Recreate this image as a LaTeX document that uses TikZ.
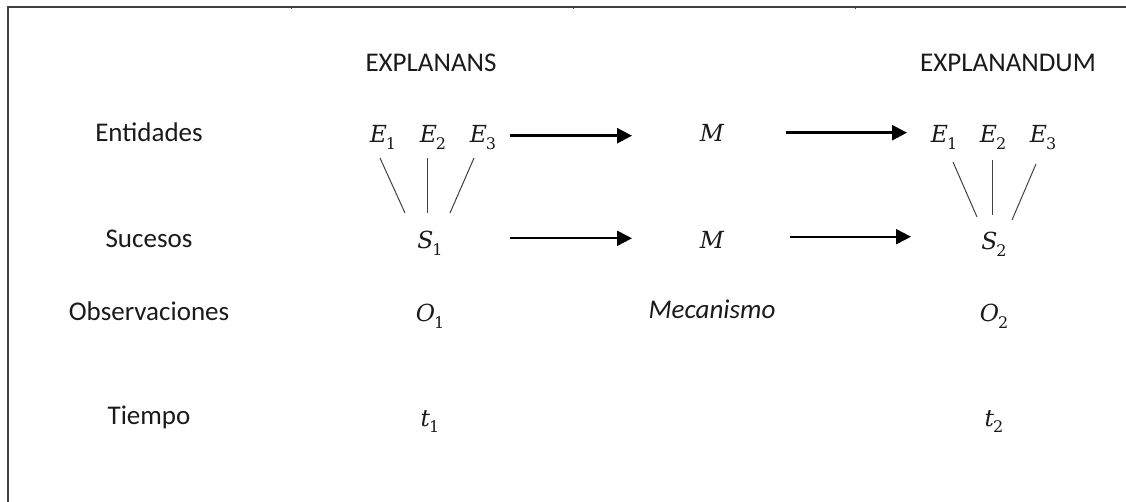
\documentclass[tikz,border=0pt]{standalone}
\usepackage{fontspec}
\setmainfont{Carlito}
\newfontfamily\serifm{DejaVu Serif}
\usetikzlibrary{arrows.meta}
\definecolor{txt}{HTML}{1A1A1A}
\definecolor{framegray}{HTML}{404040}
\newcommand{\symb}[2]{{\serifm\itshape #1}\kern-1pt\raisebox{-0.28em}{\serifm\fontsize{16}{16}\selectfont #2}}
\begin{document}
\begin{tikzpicture}[x=1pt,y=-1pt,
  lbl/.style={anchor=base,inner sep=0pt,font=\fontsize{27}{30}\selectfont,text=txt},
  mth/.style={anchor=base,inner sep=0pt,font=\fontsize{23.5}{28}\selectfont,text=txt},
  framestyle/.style={line width=1.6pt,draw=framegray},
  link/.style={line width=1pt,draw=black!75},
  arrthick/.style={-{Triangle[length=15pt,width=15pt]},line width=2.6pt,draw=black},
  arrthin/.style={-{Triangle[length=15pt,width=15pt]},line width=2pt,draw=black}]
\useasboundingbox (0,0) rectangle (1126,502);
% frame
\draw[framestyle] (1126,7) -- (8,7) -- (8,502);
\foreach \tx in {291,573,855} \draw[line width=1pt,framegray] (\tx,7) -- (\tx,9.5);
% headers
\node[lbl] (hans) at (431,72) {EXPLANANS};
\node[lbl] (hand) at (1008,72) {EXPLANANDUM};
% row labels
\node[lbl] (lent) at (149,142) {Entidades};
\node[lbl] (lsuc) at (149,248) {Sucesos};
\node[lbl] (lobs) at (149,320) {Observaciones};
\node[lbl] (ltie) at (149,424) {Tiempo};
% left entities
\node[mth] (e1l) at (383,143) {\symb{E}{1}};
\node[mth] (e2l) at (433,143) {\symb{E}{2}};
\node[mth] (e3l) at (483,143) {\symb{E}{3}};
\node[mth] (s1) at (430,249) {\symb{S}{1}};
\node[mth] (o1) at (430,322) {\symb{O}{1}};
\node[mth] (t1) at (430,426) {\symb{t}{1}};
% middle
\node[mth] (mtop) at (712,142) {{\serifm\itshape M}};
\node[mth] (mbot) at (712,249) {{\serifm\itshape M}};
\node[lbl,font=\fontsize{27}{30}\selectfont\itshape] (mec) at (712,319) {Mecanismo};
% right entities
\node[mth] (e1r) at (944,143) {\symb{E}{1}};
\node[mth] (e2r) at (993,143) {\symb{E}{2}};
\node[mth] (e3r) at (1043,143) {\symb{E}{3}};
\node[mth] (s2) at (994,250) {\symb{S}{2}};
\node[mth] (o2) at (994,322) {\symb{O}{2}};
\node[mth] (t2) at (994,426) {\symb{t}{2}};
% link end points
\coordinate (l1a) at (380,158); \coordinate (l1b) at (405,213);
\coordinate (l2a) at (427,158); \coordinate (l2b) at (427,213);
\coordinate (l3a) at (474,158); \coordinate (l3b) at (450,213);
\coordinate (r1a) at (953,162); \coordinate (r1b) at (977,217);
\coordinate (r2a) at (992,160); \coordinate (r2b) at (992,215);
\coordinate (r3a) at (1036,164); \coordinate (r3b) at (1012,220);
\draw[link] (l1a) -- (l1b);
\draw[link] (l2a) -- (l2b);
\draw[link] (l3a) -- (l3b);
\draw[link] (r1a) -- (r1b);
\draw[link] (r2a) -- (r2b);
\draw[link] (r3a) -- (r3b);
% arrows
\coordinate (a1s) at (510,135.7); \coordinate (a1e) at (632,135.7);
\coordinate (a2s) at (786,132.7); \coordinate (a2e) at (907,132.7);
\coordinate (a3s) at (510,238.3); \coordinate (a3e) at (632,238.3);
\coordinate (a4s) at (790,236.7); \coordinate (a4e) at (911,236.7);
\draw[arrthick] (a1s) -- (a1e);
\draw[arrthick] (a2s) -- (a2e);
\draw[arrthin] (a3s) -- (a3e);
\draw[arrthin] (a4s) -- (a4e);
\end{tikzpicture}
\end{document}
